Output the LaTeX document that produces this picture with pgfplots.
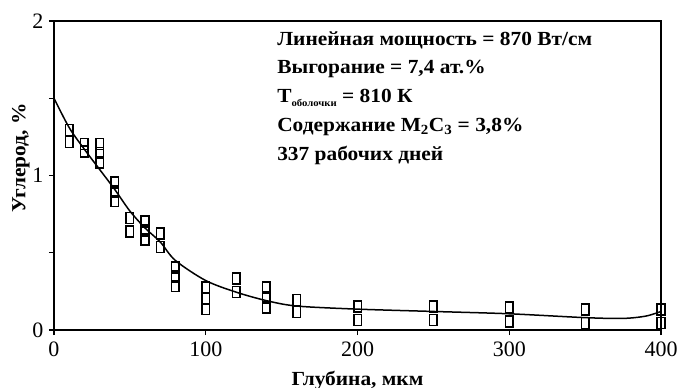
\documentclass[border=0pt]{standalone}
\usepackage{fontspec}
\setmainfont{Liberation Serif}
\newfontfamily\widefont[FakeStretch=1.07]{Liberation Serif}
\usepackage{pgfplots}
\pgfplotsset{compat=1.18}
\pgfdeclareplotmark{rbox}{%
  \pgfsetcornersarced{\pgfpoint{1.8pt}{1.8pt}}%
  \pgfpathrectangle{\pgfpoint{-3.8pt}{-5.5pt}}{\pgfpoint{7.6pt}{11pt}}%
  \pgfusepathqstroke}
\begin{document}
\begin{tikzpicture}
\begin{axis}[
  name=ax,
  scale only axis,
  width=607pt, height=309pt,
  xmin=0, xmax=400, ymin=0, ymax=2,
  xtick={0,100,200,300,400},
  ytick={0,1,2},
  minor ytick={0.5,1.5},
  axis line style={line width=1.3pt},
  tick style={line width=1.2pt, black},
  tick align=outside,
  major tick length=5pt, minor tick length=5pt,
  xtick pos=bottom, ytick pos=left,
  /pgf/number format/assume math mode=true,
  ticklabel style={font=\fontsize{22}{22}\selectfont},
  xticklabel style={yshift=-3pt},
  yticklabel style={xshift=-2pt},
  xlabel={Глубина, мкм},
  ylabel={Углерод, \%},
  label style={font=\widefont\bfseries\fontsize{20}{20}\selectfont},
  xlabel style={at={(axis description cs:0.5,0)}, anchor=base, yshift=-55pt},
  ylabel style={at={(ticklabel cs:0.557)}, yshift=-4pt},
  clip=false,
]
\addplot[black, line width=1.5pt, smooth, tension=0.5] coordinates {
 (0,1.50) (10,1.31) (20,1.17) (30,1.04) (40,0.91) (50,0.77) (60,0.66)
 (70,0.57) (80,0.45) (100,0.32) (120,0.245) (140,0.19) (160,0.155)
 (200,0.135) (250,0.12) (300,0.105) (350,0.08) (375,0.075) (390,0.09) (400,0.12)
};
\addplot[only marks, mark=rbox, mark options={line width=1.6pt, black}] coordinates {
 (10,1.294) (10,1.216)
 (20,1.204) (20,1.156)
 (30,1.204) (30,1.145) (30,1.086)
 (40,0.954) (40,0.895) (40,0.836)
 (50,0.724) (50,0.636)
 (60,0.704) (60,0.645) (60,0.586)
 (70,0.624) (70,0.536)
 (80,0.404) (80,0.345) (80,0.286)
 (100,0.274) (100,0.205) (100,0.136)
 (120,0.334) (120,0.246)
 (140,0.274) (140,0.21) (140,0.146)
 (160,0.194) (160,0.116)
 (200,0.154) (200,0.066)
 (250,0.154) (250,0.066)
 (300,0.144) (300,0.056)
 (350,0.134) (350,0.046)
 (400,0.134) (400,0.046)
};
\node[anchor=north west, inner sep=0pt, align=left,
  font=\widefont\bfseries\fontsize{20}{28.8}\selectfont] at (axis cs:147,1.935)
 {Линейная мощность = 870 Вт/см\\
  Выгорание = 7,4 ат.\%\\
  T{\fontsize{10}{10}\selectfont\raisebox{-4pt}{оболочки}} = 810 К\\
  Содержание M\textsubscript{2}C\textsubscript{3} = 3,8\%\\
  337 рабочих дней};
\end{axis}
\pgfresetboundingbox
\path ([shift={(-54pt,-58pt)}]ax.south west) rectangle ([shift={(16pt,21pt)}]ax.north east);
\end{tikzpicture}
\end{document}
